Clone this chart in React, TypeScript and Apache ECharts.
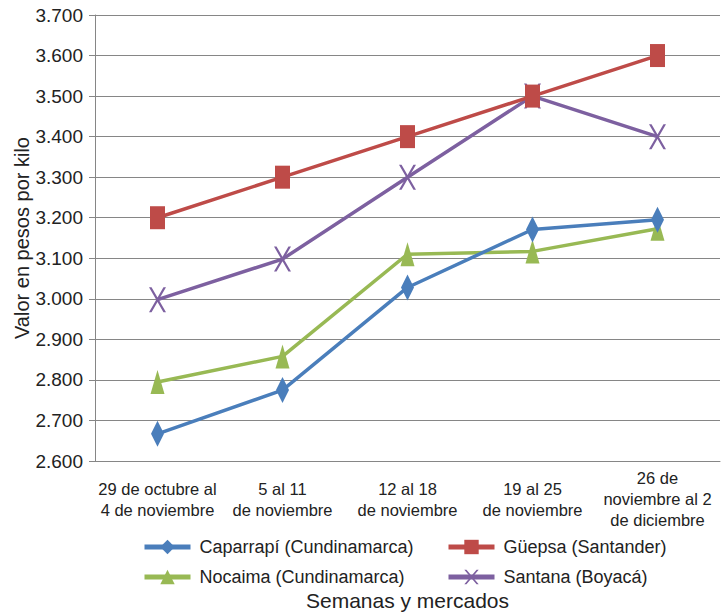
import React, { useEffect, useRef } from "react";
import * as echarts from "echarts";

const categories = [
  "29 de octubre al\n4 de noviembre",
  "5 al 11\nde noviembre",
  "12 al 18\nde noviembre",
  "19 al 25\nde noviembre",
  "26 de\nnoviembre al 2\nde diciembre",
];
const caparrapi = [2667, 2775, 3028, 3171, 3195];
const guepsa = [3200, 3300, 3400, 3500, 3600];
const nocaima = [2795, 2858, 3110, 3117, 3173];
const santana = [2998, 3098, 3300, 3500, 3400];

const seriesNames = [
  "Caparrapí (Cundinamarca)",
  "Güepsa (Santander)",
  "Nocaima (Cundinamarca)",
  "Santana (Boyacá)",
];
const colors = ["#4A7EBB", "#BE4B48", "#98B954", "#7D60A0"];

const xPath =
  "path://M0,0 L3,0 L20,24 L17,24 Z M17,0 L20,0 L3,24 L0,24 Z";

export default function App() {
  const ref = useRef<HTMLDivElement>(null);
  useEffect(() => {
    if (!ref.current) return;
    const chart = echarts.init(ref.current, null, { renderer: "svg" });
    const font = "'Liberation Sans', Arial, sans-serif";
    const textColor = "#222";
    const mk = (i: number, data: number[], symbol: string, size: number[]) => ({
      name: seriesNames[i],
      type: "line",
      data,
      symbol,
      symbolSize: size,
      symbolKeepAspect: false,
      showAllSymbol: true,
      lineStyle: { color: colors[i], width: 3.5 },
      itemStyle: { color: colors[i] },
      z: 10 - i,
    });
    const legendBase = {
      orient: "vertical",
      top: 538,
      itemWidth: 46,
      itemHeight: 18,
      itemGap: 12,
      padding: 0,
      lineStyle: { width: 5 },
      textStyle: { color: textColor, fontSize: 18, fontFamily: font, padding: [0, 0, 0, 4] },
    };
    chart.setOption({
      animation: false,
      backgroundColor: "#fff",
      textStyle: { fontFamily: font },
      grid: {
        left: 95,
        right: 5,
        top: 15,
        bottom: 152,
        containLabel: false,
        outerBoundsMode: "none",
      },
      xAxis: {
        type: "category",
        data: categories,
        boundaryGap: true,
        axisLine: { lineStyle: { color: "#868686", width: 1 } },
        axisTick: { show: false },
        axisLabel: {
          interval: 0,
          color: textColor,
          fontFamily: font,
          fontSize: 16.5,
          lineHeight: 21,
          verticalAlign: "middle",
          margin: 38,
        },
        name: "Semanas y mercados",
        nameLocation: "middle",
        nameGap: 128,
        nameMoveOverlap: false,
        nameTextStyle: { color: textColor, fontSize: 21, fontFamily: font, lineHeight: 22 },
      },
      yAxis: {
        type: "value",
        min: 2600,
        max: 3700,
        interval: 100,
        axisLine: { show: true, lineStyle: { color: "#868686", width: 1 } },
        axisTick: { show: true, length: 6, lineStyle: { color: "#868686" } },
        splitLine: { lineStyle: { color: "#868686", width: 1 } },
        axisLabel: {
          color: textColor,
          fontSize: 19,
          fontFamily: font,
          margin: 12,
          formatter: (v: number) => (v / 1000).toFixed(3),
        },
        name: "Valor en pesos por kilo",
        nameLocation: "middle",
        nameRotate: 90,
        nameGap: 63,
        nameMoveOverlap: false,
        nameTextStyle: { color: textColor, fontSize: 20, fontFamily: font },
      },
      legend: [
        { ...legendBase, data: [seriesNames[0], seriesNames[2]], left: 142 },
        { ...legendBase, data: [seriesNames[1], seriesNames[3]], left: 446 },
      ],
      series: [
        mk(0, caparrapi, "diamond", [13, 26]),
        mk(1, guepsa, "rect", [15, 23]),
        mk(2, nocaima, "triangle", [14, 24]),
        mk(3, santana, xPath, [17, 25]),
      ],
    });
    return () => chart.dispose();
  }, []);
  return <div ref={ref} style={{ width: 725, height: 613, position: "absolute", left: 0, top: 0 }} />;
}
